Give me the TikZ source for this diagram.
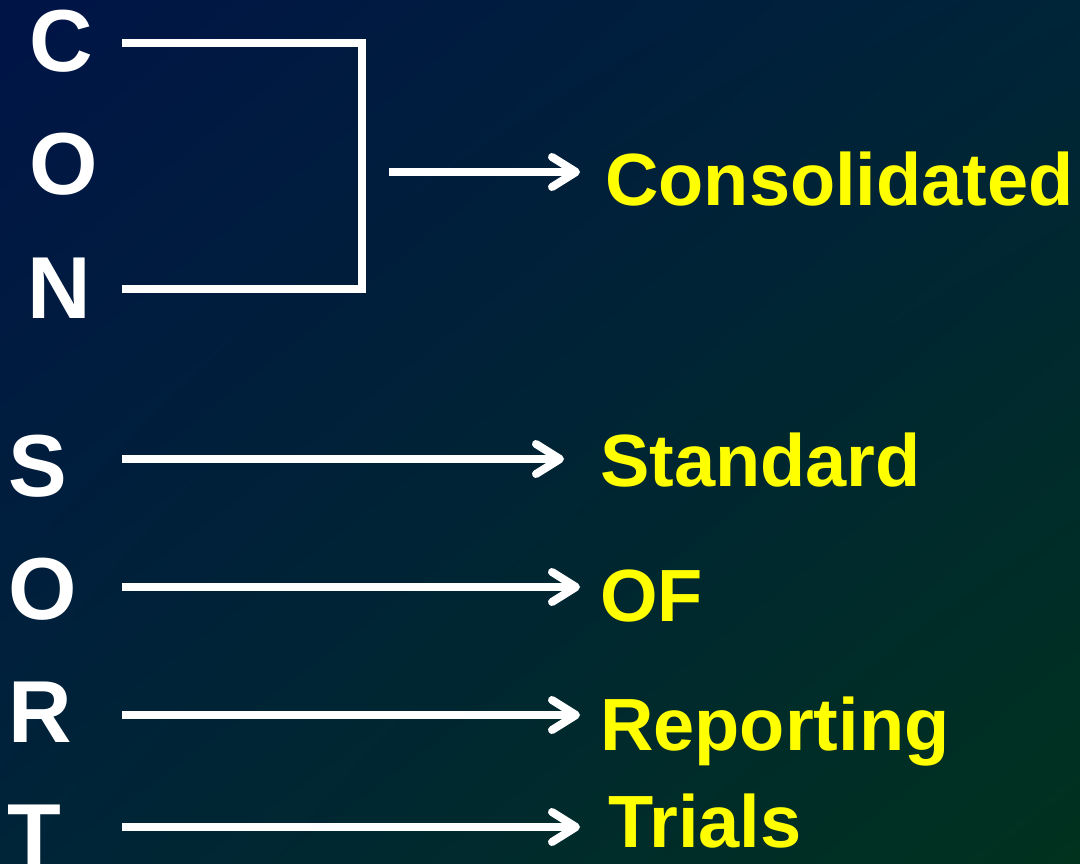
\documentclass[tikz,border=0pt]{standalone}
\usepackage{fontspec}
\setmainfont{Liberation Sans}
\usetikzlibrary{arrows.meta, shadings}
\definecolor{bgtl}{RGB}{0,20,70}
\definecolor{bgmid}{RGB}{0,36,56}
\definecolor{bgbr}{RGB}{0,50,30}
\definecolor{yl}{RGB}{255,255,0}
\tikzset{
    letter/.style={text=white,font=\fontsize{88}{88}\selectfont\bfseries,anchor=base west,inner sep=0pt},
    word/.style={text=yl,font=\fontsize{74}{74}\selectfont\bfseries,anchor=base west,inner sep=0pt},
    arrow/.style={-{Straight Barb[length=24pt,width=30pt,round]},white,line width=8pt},
    bracket/.style={white,line width=8pt}
}

\begin{document}
\begin{tikzpicture}[x=1pt, y=-1pt]
			\shade[upper left=bgtl, upper right=bgmid, lower left=bgmid, lower right=bgbr] (0,0) rectangle (1080,864);
			\useasboundingbox (0,0) rectangle (1080,864);
			\node[letter] (c) at (29,72) {C};
			\node[letter] (o1) at (29,195) {O};
			\node[letter] (n) at (27,318) {N};
			\node[letter] (s) at (8,496) {S};
			\node[letter] (o2) at (8,619) {O};
			\node[letter] (r) at (8,742) {R};
			\node[letter] (t) at (7,865) {T};
			\node[word] (cons) at (605,206) {Consolidated};
			\node[word] (std) at (600,486) {Standard};
			\node[word] (of) at (600,621) {OF};
			\node[word] (rep) at (600,750) {Reporting};
			\node[word] (tri) at (608,847) {Trials};
			\coordinate (ctop) at (122,43);
			\coordinate (nbot) at (122,289);
			\draw[bracket] (ctop) -- ++(240,0) |- (nbot);
			\coordinate (cfrom) at (389,172);
			\coordinate (cto) at (580,172);
			\draw[arrow] (cfrom) -- (cto);
			\coordinate (sfrom) at (122,459);
			\coordinate (sto) at (564,459);
			\draw[arrow] (sfrom) -- (sto);
			\coordinate (ofrom) at (122,587);
			\coordinate (oto) at (580,587);
			\draw[arrow] (ofrom) -- (oto);
			\coordinate (rfrom) at (122,715);
			\coordinate (rto) at (580,715);
			\draw[arrow] (rfrom) -- (rto);
			\coordinate (tfrom) at (122,827);
			\coordinate (tto) at (580,827);
			\draw[arrow] (tfrom) -- (tto);
		\end{tikzpicture}
\end{document}
